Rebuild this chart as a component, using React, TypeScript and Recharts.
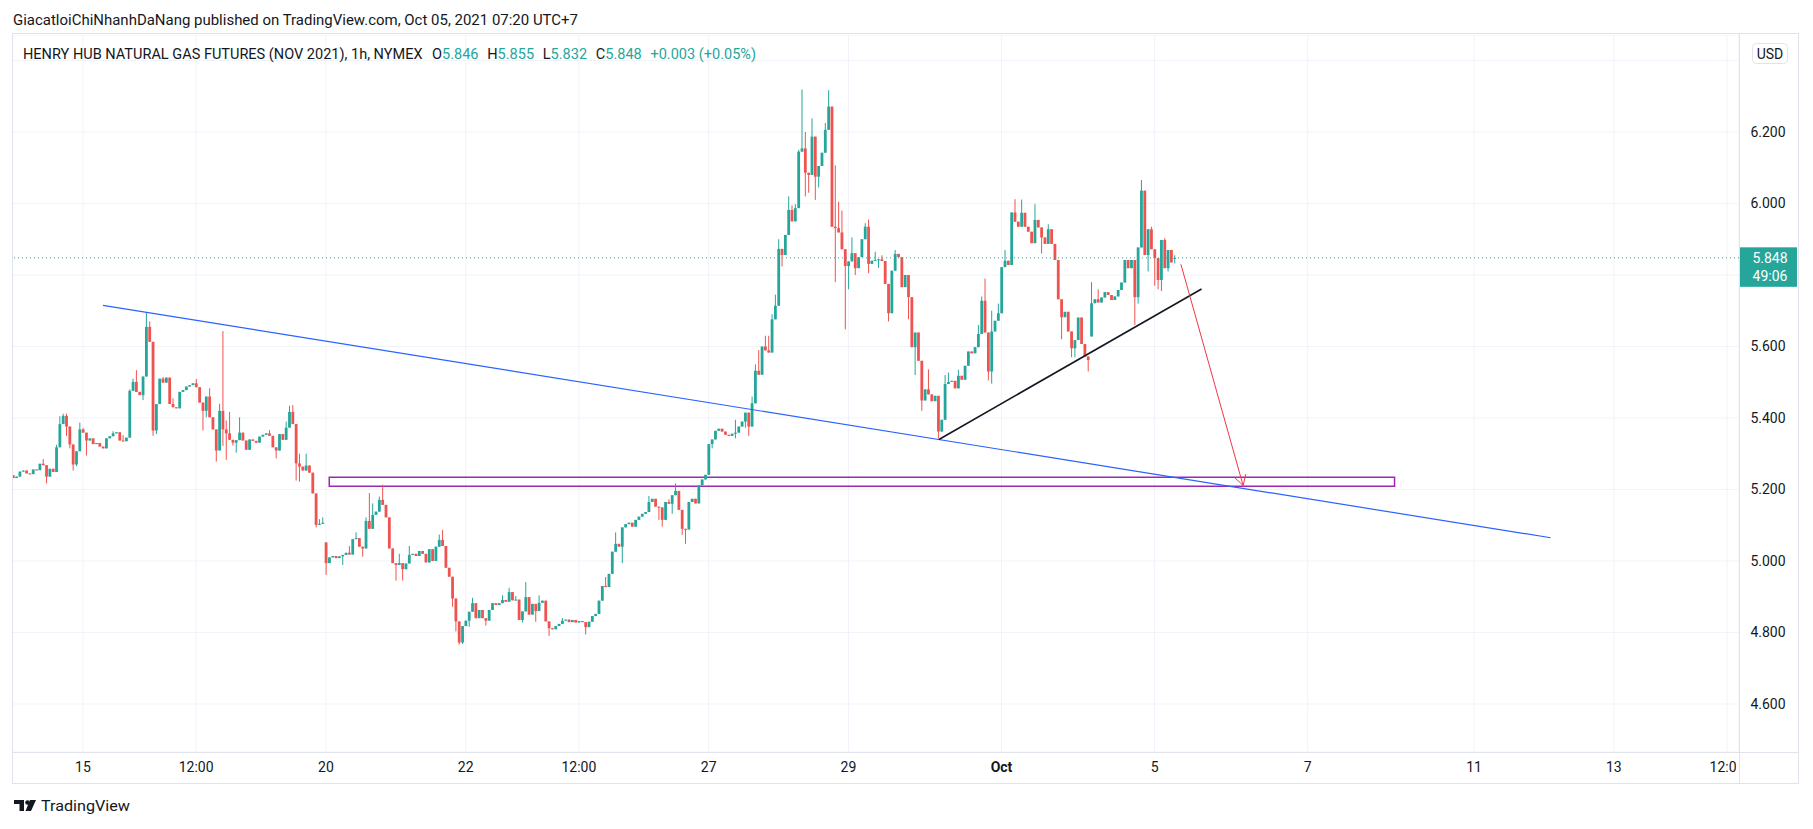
import React from 'react'
import { ComposedChart, Bar, XAxis, YAxis, CartesianGrid, ReferenceLine, ReferenceArea } from 'recharts'

// hourly NG futures bars, index 0 = Sep 15 00:00 (UTC+7), weekend hours removed
const FIRST_BAR = -21

const closes = [
  5.232, 5.236, 5.250, 5.253, 5.245, 5.243, 5.256, 5.254, 5.272, 5.268,
  5.236, 5.258, 5.249, 5.318, 5.383, 5.406, 5.376, 5.326, 5.270, 5.307,
  5.368,
  // Sep 15
  5.359, 5.337, 5.343, 5.327, 5.330, 5.320, 5.315, 5.343, 5.349, 5.357,
  5.360, 5.337, 5.335, 5.345, 5.476, 5.501, 5.473, 5.464, 5.516, 5.655,
  5.613, 5.365, 5.439, 5.510, 5.499, 5.513, 5.439, 5.430, 5.427, 5.473,
  5.478, 5.488, 5.492, 5.497, 5.486, 5.443, 5.420, 5.460, 5.402, 5.368,
  5.309, 5.420, 5.368, 5.357, 5.339, 5.331, 5.338, 5.359, 5.337, 5.311,
  5.340, 5.336, 5.331, 5.348, 5.353, 5.357, 5.350, 5.318, 5.309, 5.355,
  5.339, 5.373, 5.417, 5.383, 5.273, 5.264, 5.253, 5.267, 5.247, 5.189,
  5.101, 5.104, 5.107,
  // Sep 20
  4.994, 5.010, 5.014, 5.008, 5.013, 5.017, 5.023, 5.018, 5.061, 5.064,
  5.040, 5.035, 5.112, 5.090, 5.129, 5.138, 5.171, 5.157, 5.122, 5.035,
  4.994, 4.989, 4.994, 4.977, 4.993, 5.017, 5.020, 5.014, 5.028, 5.020,
  4.996, 5.033, 5.000, 5.040, 5.059, 5.042, 4.981, 4.956, 4.895, 4.831,
  4.772, 4.818, 4.833, 4.858, 4.882, 4.840, 4.863, 4.840, 4.833, 4.863,
  4.882, 4.877, 4.882, 4.891, 4.886, 4.913, 4.890, 4.892, 4.835, 4.859,
  4.899, 4.850, 4.880, 4.860, 4.883, 4.889, 4.831, 4.812, 4.809, 4.818,
  4.824, 4.833, 4.836, 4.829, 4.835, 4.828, 4.832, 4.829, 4.815, 4.830,
  4.846, 4.852, 4.889, 4.930, 4.927, 4.964, 5.026, 5.048, 5.040, 5.094,
  5.103, 5.107, 5.096, 5.115, 5.124, 5.132, 5.137, 5.165, 5.174, 5.152,
  5.150, 5.115, 5.165, 5.160, 5.184, 5.196, 5.143, 5.090, 5.088, 5.165,
  5.174, 5.161, 5.212, 5.228, 5.241,
  // Sep 27
  5.327, 5.340, 5.364, 5.370, 5.362, 5.353, 5.350, 5.356, 5.359, 5.376,
  5.390, 5.415, 5.376, 5.441, 5.532, 5.521, 5.600, 5.589, 5.583, 5.676,
  5.714, 5.873, 5.856, 5.912, 5.982, 5.950, 5.987, 6.145, 6.154, 6.086,
  6.080, 6.187, 6.075, 6.105, 6.142, 6.206, 6.271, 5.935, 5.931, 5.919,
  5.872, 5.825, 5.838, 5.861, 5.819, 5.850, 5.900, 5.935, 5.831, 5.840,
  5.842, 5.844, 5.839, 5.775, 5.693, 5.812, 5.859, 5.850, 5.766, 5.800,
  5.738, 5.598, 5.639, 5.560, 5.449, 5.480, 5.466, 5.447, 5.462, 5.362,
  5.395, 5.495, 5.501, 5.504, 5.483, 5.518, 5.507, 5.546, 5.586, 5.581,
  5.598, 5.635, 5.728, 5.639, 5.530, 5.642, 5.672, 5.693, 5.822, 5.840,
  5.828, 5.975, 5.949, 5.935, 5.974, 5.935, 5.921, 5.889, 5.954, 5.933,
  5.905, 5.887, 5.928, 5.887, 5.842, 5.732, 5.682, 5.697, 5.642, 5.595,
  5.618, 5.681, 5.607, 5.572, 5.562,
  // Oct 4
  5.721, 5.732, 5.723, 5.737, 5.752, 5.744, 5.730, 5.740, 5.758, 5.779,
  5.842, 5.819, 5.842, 5.738, 5.877, 6.036, 5.856, 5.928, 5.872, 5.847,
  5.786, 5.898, 5.819, 5.870, 5.835, 5.848,
]

// bars whose open is not the previous close (first bar, session gaps, live bar)
const openOverrides: [number, number][] = [[-21, 5.240], [73, 5.052], [303, 5.628], [328, 5.846]]

const wickHighs: [number, number][] = [
  [-12, 5.285], [-8, 5.325], [-7, 5.405], [-6, 5.412], [-5, 5.412], [-1, 5.387], [0, 5.372],
  [9, 5.363], [12, 5.352], [14, 5.48], [15, 5.51], [16, 5.534], [19, 5.696], [20, 5.67],
  [24, 5.515], [27, 5.455], [34, 5.509], [38, 5.483], [41, 5.44], [42, 5.643], [43, 5.393],
  [44, 5.417], [47, 5.402], [56, 5.366], [61, 5.39], [62, 5.434], [63, 5.436], [65, 5.3],
  [67, 5.3], [71, 5.117], [72, 5.122], [80, 5.042], [82, 5.08], [85, 5.122], [86, 5.19],
  [87, 5.161], [89, 5.18], [90, 5.213], [95, 5.02], [98, 5.042], [107, 5.074], [108, 5.087],
  [117, 4.897], [126, 4.904], [128, 4.925], [130, 4.902], [133, 4.941], [137, 4.904],
  [144, 4.84], [157, 4.955], [160, 5.08], [170, 5.182], [176, 5.173], [178, 5.217],
  [196, 5.395], [201, 5.46], [202, 5.55], [203, 5.59], [205, 5.63], [206, 5.63], [207, 5.69],
  [208, 5.745], [209, 5.9], [212, 6.02], [213, 5.995], [214, 5.998], [215, 6.15], [216, 6.319],
  [217, 6.2], [219, 6.238], [223, 6.225], [224, 6.317], [226, 6.107], [227, 6.005], [228, 5.98],
  [231, 5.905], [235, 5.945], [236, 5.955], [238, 5.865], [240, 5.855], [244, 5.87],
  [254, 5.536], [259, 5.52], [260, 5.527], [263, 5.535], [269, 5.66], [270, 5.74], [271, 5.79],
  [273, 5.7], [275, 5.72], [277, 5.87], [280, 6.012], [282, 6.011], [286, 5.998], [290, 5.942],
  [303, 5.78], [305, 5.76], [318, 6.066], [321, 5.935], [325, 5.903], [327, 5.87], [328, 5.855],
]

const wickLows: [number, number][] = [
  [-11, 5.217], [-5, 5.35], [-4, 5.315], [-3, 5.253], [-2, 5.265], [1, 5.295], [18, 5.45],
  [21, 5.35], [22, 5.355], [36, 5.365], [37, 5.402], [40, 5.278], [42, 5.322], [43, 5.283],
  [45, 5.323], [46, 5.303], [58, 5.287], [64, 5.225], [65, 5.222], [70, 5.094], [73, 4.961],
  [78, 4.989], [84, 5.012], [94, 4.945], [96, 4.945], [111, 4.872], [112, 4.803], [113, 4.766],
  [114, 4.768], [116, 4.816], [121, 4.819], [132, 4.828], [136, 4.83], [140, 4.79], [151, 4.794],
  [162, 4.994], [173, 5.115], [174, 5.096], [177, 5.132], [180, 5.073], [181, 5.048],
  [189, 5.315], [196, 5.343], [199, 5.373], [200, 5.35], [210, 5.824], [217, 6.02], [218, 6.03],
  [220, 6.01], [221, 6.045], [226, 5.78], [229, 5.648], [230, 5.76], [232, 5.8], [236, 5.805],
  [239, 5.82], [242, 5.67], [248, 5.676], [250, 5.52], [252, 5.42], [257, 5.343], [272, 5.505],
  [273, 5.496], [288, 5.86], [294, 5.62], [297, 5.57], [298, 5.57], [302, 5.53], [316, 5.66],
  [317, 5.72], [320, 5.81], [322, 5.77], [323, 5.76], [324, 5.755], [326, 5.81], [328, 5.832],
]

const timeTicks = [0, 34, 73, 115, 149, 188, 230, 276, 322, 368, 418, 460, 494]
const timeLabels = ['15', '12:00', '20', '22', '12:00', '27', '29', 'Oct', '5', '7', '11', '13', '12:00']
const priceTicks = [4.6, 4.8, 5.0, 5.2, 5.4, 5.6, 5.8, 6.0, 6.2, 6.4]

const lastPrice = 5.848

// drawings (bar index, price)
const blueTrend = [{ x: 6, y: 5.715 }, { x: 441, y: 5.065 }]
const blackTrend = [{ x: 257.2, y: 5.34 }, { x: 336.1, y: 5.761 }]
const redArrow = [{ x: 329.9, y: 5.83 }, { x: 348.6, y: 5.211 }]
const arrowHeadA = [{ x: 349.4, y: 5.243 }, { x: 348.6, y: 5.211 }]
const arrowHeadB = [{ x: 346.0, y: 5.234 }, { x: 348.6, y: 5.211 }]
const supportZone = { x1: 74, x2: 394.1, y1: 5.209, y2: 5.234 }

const UP = '#26a69a'
const DOWN = '#ef5350'
const TEXT = '#131722'
const BORDER = '#e0e3eb'
const GRID = '#f0f3fa'
const FONT = 'Roboto, "Liberation Sans", sans-serif'

const highMap = new Map(wickHighs)
const lowMap = new Map(wickLows)
const openMap = new Map(openOverrides)

const data = closes.map((close, i) => {
  const k = FIRST_BAR + i
  const open = openMap.get(k) ?? closes[i - 1]
  const high = Math.max(open, close, highMap.get(k) ?? -Infinity)
  const low = Math.min(open, close, lowMap.get(k) ?? Infinity)
  return { k, open, close, high, low }
})

function Candle(props: any) {
  const { x, y, width, height, payload } = props
  if (x == null || y == null || !payload) return null
  const { open, close, high, low } = payload
  const top = Math.min(y, y + height)
  const h = Math.abs(height)
  const cx = x + width / 2
  const span = high - low
  const toY = (v: number) => (span === 0 ? top : top + ((high - v) / span) * h)
  const color = close >= open ? UP : DOWN
  const bodyTop = toY(Math.max(open, close))
  const bodyBottom = toY(Math.min(open, close))
  return (
    <g>
      <line x1={cx} x2={cx} y1={top} y2={top + h} stroke={color} strokeWidth={1} />
      <rect x={cx - 1.4} y={bodyTop} width={2.8} height={Math.max(bodyBottom - bodyTop, 1)} fill={color} />
    </g>
  )
}

function TimeTick(props: any) {
  const { x, y, payload } = props
  const idx = timeTicks.indexOf(payload.value)
  const label = timeLabels[idx]
  const bold = label === 'Oct'
  const isLast = idx === timeTicks.length - 1
  const text = (
    <text x={isLast ? 20 : x} y={isLast ? 14 : y + 12} textAnchor="middle" fontSize={14}
      fontFamily={FONT} fill={TEXT} fontWeight={bold ? 700 : 400}>
      {label}
    </text>
  )
  if (isLast) {
    // cut off by the price scale, as in the original
    return (
      <svg x={x - 20} y={y - 2} width={Math.max(1724 - (x - 20), 0)} height={20} overflow="hidden">
        {text}
      </svg>
    )
  }
  return text
}

function PriceTick(props: any) {
  const { x, y, payload } = props
  // 6.400 sits under the currency button, 5.800 under the last price tag
  if (payload.value > 6.3 || Math.abs(payload.value - lastPrice) < 0.06) return null
  return (
    <text x={x + 21} y={y + 5} textAnchor="middle" fontSize={14} fontFamily={FONT} fill={TEXT}>
      {payload.value.toFixed(3)}
    </text>
  )
}

function LastPriceLabel(props: any) {
  const vb = props.viewBox
  if (!vb) return null
  const left = vb.x + vb.width
  return (
    <g>
      <rect x={left} y={vb.y - 10.5} width={58} height={39.5} fill={UP} />
      <text x={left + 31} y={vb.y + 5} textAnchor="middle" fontSize={14} fontFamily={FONT} fill="#fff">
        {lastPrice.toFixed(3)}
      </text>
      <text x={left + 31} y={vb.y + 23} textAnchor="middle" fontSize={14} fontFamily={FONT} fill="#fff">
        49:06
      </text>
    </g>
  )
}

export default function App() {
  return (
    <div style={{ position: 'absolute', left: 0, top: 0, width: 1813, height: 829, background: '#fff', overflow: 'hidden' }}>
      <div style={{ position: 'absolute', left: 12, top: 35 }}>
        <ComposedChart width={1786} height={748} data={data} margin={{ top: 0, right: 0, bottom: 0, left: 0 }}>
          <CartesianGrid stroke={GRID} />
          <XAxis
            dataKey="k"
            type="number"
            domain={[-21.33, 497.6]}
            allowDataOverflow
            ticks={timeTicks}
            interval={0}
            tick={<TimeTick />}
            tickLine={false}
            axisLine={false}
            height={31}
          />
          <YAxis
            orientation="right"
            type="number"
            domain={[4.4657, 6.4713]}
            allowDataOverflow
            ticks={priceTicks}
            interval={0}
            tick={<PriceTick />}
            tickLine={false}
            axisLine={false}
            width={59}
          />
          <ReferenceLine y={lastPrice} stroke={UP} strokeDasharray="1 3" label={<LastPriceLabel />} />
          <ReferenceArea {...supportZone} fill="none" stroke="#9c27b0" strokeWidth={1.5} fillOpacity={0} ifOverflow="visible" />
          <ReferenceLine segment={blueTrend} stroke="#2962ff" strokeWidth={1.2} ifOverflow="visible" />
          <Bar dataKey={(d: any) => [d.low, d.high]} shape={<Candle />} isAnimationActive={false} />
          <ReferenceLine segment={blackTrend} stroke="#131722" strokeWidth={1.6} ifOverflow="visible" />
          <ReferenceLine segment={redArrow} stroke="#f23645" strokeWidth={1} ifOverflow="visible" />
          <ReferenceLine segment={arrowHeadA} stroke="#f23645" strokeWidth={1} ifOverflow="visible" />
          <ReferenceLine segment={arrowHeadB} stroke="#f23645" strokeWidth={1} ifOverflow="visible" />
        </ComposedChart>
      </div>

      <svg width={1813} height={829} style={{ position: 'absolute', left: 0, top: 0, pointerEvents: 'none' }}>
        <rect x={12.5} y={33.5} width={1786} height={750} fill="none" stroke={BORDER} />
        <line x1={1739.5} x2={1739.5} y1={34} y2={783} stroke={BORDER} />
        <line x1={12} x2={1798} y1={752.5} y2={752.5} stroke={BORDER} />

        <text x={13} y={25} fontSize={14.5} fontFamily={FONT} fill={TEXT} textLength={565} lengthAdjust="spacingAndGlyphs">
          GiacatloiChiNhanhDaNang published on TradingView.com, Oct 05, 2021 07:20 UTC+7
        </text>

        <text x={23} y={59} fontSize={15} fontFamily={FONT} fill={TEXT} textLength={733} lengthAdjust="spacingAndGlyphs">
          <tspan>HENRY HUB NATURAL GAS FUTURES (NOV 2021), 1h, NYMEX</tspan>
          <tspan dx={10}>O</tspan><tspan fill={UP}>5.846</tspan>
          <tspan dx={9}>H</tspan><tspan fill={UP}>5.855</tspan>
          <tspan dx={9}>L</tspan><tspan fill={UP}>5.832</tspan>
          <tspan dx={9}>C</tspan><tspan fill={UP}>5.848</tspan>
          <tspan dx={9} fill={UP}>+0.003 (+0.05%)</tspan>
        </text>

        <rect x={1752.5} y={43.5} width={35} height={20} rx={4} fill="#fff" stroke={BORDER} />
        <text x={1770} y={58.5} textAnchor="middle" fontSize={14} fontFamily={FONT} fill={TEXT}>USD</text>

        <g fill={TEXT}>
          <path d="M14 800h10v11h-4.5v-7H14z" />
          <circle cx={27.5} cy={802.5} r={2.3} />
          <path d="M30 800h6l-5 11h-5.5z" />
        </g>
        <text x={41} y={811} fontSize={15} fontFamily={FONT} fill={TEXT} textLength={89} lengthAdjust="spacingAndGlyphs">
          TradingView
        </text>
      </svg>
    </div>
  )
}
